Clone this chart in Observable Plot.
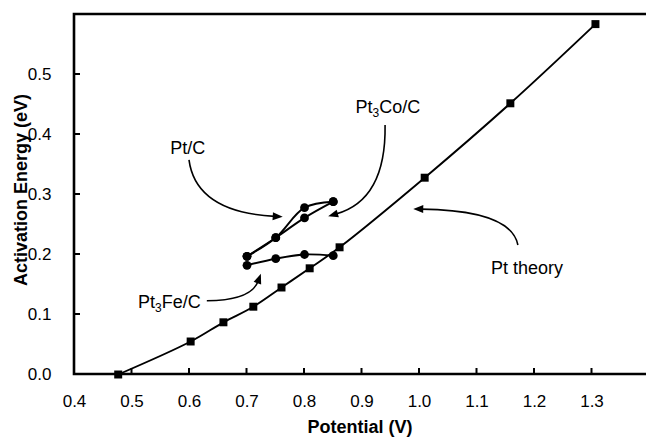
<!DOCTYPE html>
<html><head><meta charset="utf-8">
<script src="https://cdn.jsdelivr.net/npm/d3@7"></script>
<script src="https://cdn.jsdelivr.net/npm/@observablehq/plot@0.6"></script>
<style>
html,body{margin:0;padding:0;background:#fff}
#chart svg{display:block}
</style>
</head><body><div id="chart"></div>
<script>
// ---- data ----
const potentialTheory = [0.476, 0.602, 0.659, 0.711, 0.760, 0.809, 0.861, 1.009, 1.158, 1.306];
const energyTheory    = [0.000, 0.055, 0.087, 0.113, 0.145, 0.177, 0.212, 0.328, 0.452, 0.584];

const potentialCatalyst = [0.70, 0.75, 0.80, 0.85];
const energyPtC    = [0.197, 0.228, 0.278, 0.288];
const energyPt3CoC = [0.197, 0.228, 0.261, 0.288];
const energyPt3FeC = [0.182, 0.193, 0.200, 0.198];

const xTicks = [0.4, 0.5, 0.6, 0.7, 0.8, 0.9, 1.0, 1.1, 1.2, 1.3];
const yTicks = [0.0, 0.1, 0.2, 0.3, 0.4, 0.5];

const xTitle = "Potential (V)";
const yTitle = "Activation Energy (eV)";

// annotation labels: [pre, subscript, post], anchor position in data units
const annotationParts = [["Pt/C","",""], ["Pt","3","Co/C"], ["Pt","3","Fe/C"], ["Pt theory","",""]];
const annotationX = [0.598, 0.946, 0.566, 1.188];
const annotationY = [0.378, 0.445, 0.120, 0.177];

// annotation arrows: start, control, end (data units)
const arrowStartX = [0.600, 0.941, 0.631, 1.172];
const arrowStartY = [0.357, 0.415, 0.122, 0.215];
const arrowCtrlX  = [0.612, 0.943, 0.708, 1.160];
const arrowCtrlY  = [0.270, 0.290, 0.123, 0.273];
const arrowEndX   = [0.763, 0.842, 0.725, 0.990];
const arrowEndY   = [0.262, 0.263, 0.167, 0.275];

// ---- build tables ----
const theory = potentialTheory.map((x, i) => ({x, y: energyTheory[i]}));
const catalystSeries = [["Pt/C", energyPtC], ["Pt3Co/C", energyPt3CoC], ["Pt3Fe/C", energyPt3FeC]];
const catalysts = catalystSeries.flatMap(([name, vals]) =>
  potentialCatalyst.map((x, i) => ({series: name, x, y: vals[i]})));

const FONT = "'Liberation Sans', Arial, Helvetica, sans-serif";

// custom render: frame, inward ticks, axis titles, annotation texts and arrows
function decorations(index, scales, values, dim) {
  const {x, y} = scales;
  const g = d3.create("svg:g").attr("font-family", FONT);
  const L = dim.marginLeft, R = dim.width - dim.marginRight;
  const T = dim.marginTop, B = dim.height - dim.marginBottom;
  // inward ticks
  g.append("g").attr("stroke", "#000").attr("stroke-width", 2)
    .selectAll("line").data(xTicks).join("line")
    .attr("x1", d => x(d)).attr("x2", d => x(d)).attr("y1", B).attr("y2", B - 6);
  g.append("g").attr("stroke", "#000").attr("stroke-width", 2)
    .selectAll("line").data(yTicks).join("line")
    .attr("y1", d => y(d)).attr("y2", d => y(d)).attr("x1", L).attr("x2", L + 6);
  // frame (top, left, bottom)
  g.append("path").attr("fill", "none").attr("stroke", "#000").attr("stroke-width", 2.6)
    .attr("stroke-linecap", "square")
    .attr("d", `M${R},${T}H${L}V${B}H${R}`);
  // axis titles
  g.append("text").attr("x", (L + R) / 2).attr("y", dim.height - 8)
    .attr("text-anchor", "middle").attr("font-weight", "bold").attr("font-size", 18)
    .text(xTitle);
  g.append("text").attr("transform", `translate(21,${(T + B) / 2 - 4}) rotate(-90)`)
    .attr("text-anchor", "middle").attr("dy", "0.35em")
    .attr("font-weight", "bold").attr("font-size", 18).text(yTitle);
  // annotation labels
  annotationParts.forEach((parts, i) => {
    const t = g.append("text").attr("x", x(annotationX[i])).attr("y", y(annotationY[i]))
      .attr("text-anchor", "middle").attr("dy", "0.35em").attr("font-size", 18);
    t.append("tspan").text(parts[0]);
    if (parts[1]) {
      t.append("tspan").attr("font-size", 12).attr("dy", 4).text(parts[1]);
      t.append("tspan").attr("dy", -4).text(parts[2]);
    }
  });
  // arrows
  annotationParts.forEach((_, i) => {
    const sx = x(arrowStartX[i]), sy = y(arrowStartY[i]);
    const cx = x(arrowCtrlX[i]), cy = y(arrowCtrlY[i]);
    const ex = x(arrowEndX[i]), ey = y(arrowEndY[i]);
    const a = Math.atan2(ey - cy, ex - cx);
    const hl = 10, hw = 4;
    const bx = ex - hl * Math.cos(a), by = ey - hl * Math.sin(a);
    g.append("path").attr("fill", "none").attr("stroke", "#000").attr("stroke-width", 1.6)
      .attr("d", `M${sx},${sy}Q${cx},${cy} ${bx + 2 * Math.cos(a)},${by + 2 * Math.sin(a)}`);
    g.append("path").attr("fill", "#000")
      .attr("d", `M${ex},${ey}L${bx + hw * Math.sin(a)},${by - hw * Math.cos(a)}L${bx - hw * Math.sin(a)},${by + hw * Math.cos(a)}Z`);
  });
  return g.node();
}

const plot = Plot.plot({
  width: 646,
  height: 441,
  marginLeft: 74,
  marginRight: 0,
  marginTop: 14,
  marginBottom: 67,
  style: {fontFamily: FONT, background: "#fff", color: "#000", overflow: "visible"},
  x: {domain: [0.4, 0.4 + 572 / 575]},
  y: {domain: [0, 0.6]},
  marks: [
    Plot.axisX({ticks: xTicks, tickSize: 0, tickPadding: 20, tickFormat: d3.format(".1f"), fontSize: 17, label: null}),
    Plot.axisY({ticks: yTicks, tickSize: 0, tickPadding: 23, tickFormat: d3.format(".1f"), fontSize: 17, label: null}),
    Plot.line(theory, {x: "x", y: "y", curve: "catmull-rom", stroke: "#000", strokeWidth: 1.9}),
    Plot.dot(theory, {x: "x", y: "y", symbol: "square", r: 4.5, fill: "#000", stroke: "none"}),
    Plot.line(catalysts, {x: "x", y: "y", z: "series", curve: "catmull-rom", stroke: "#000", strokeWidth: 1.9}),
    Plot.dot(catalysts, {x: "x", y: "y", r: 4.4, fill: "#000", stroke: "none"}),
    decorations
  ]
});
document.getElementById("chart").appendChild(plot);
</script>
</body></html>
